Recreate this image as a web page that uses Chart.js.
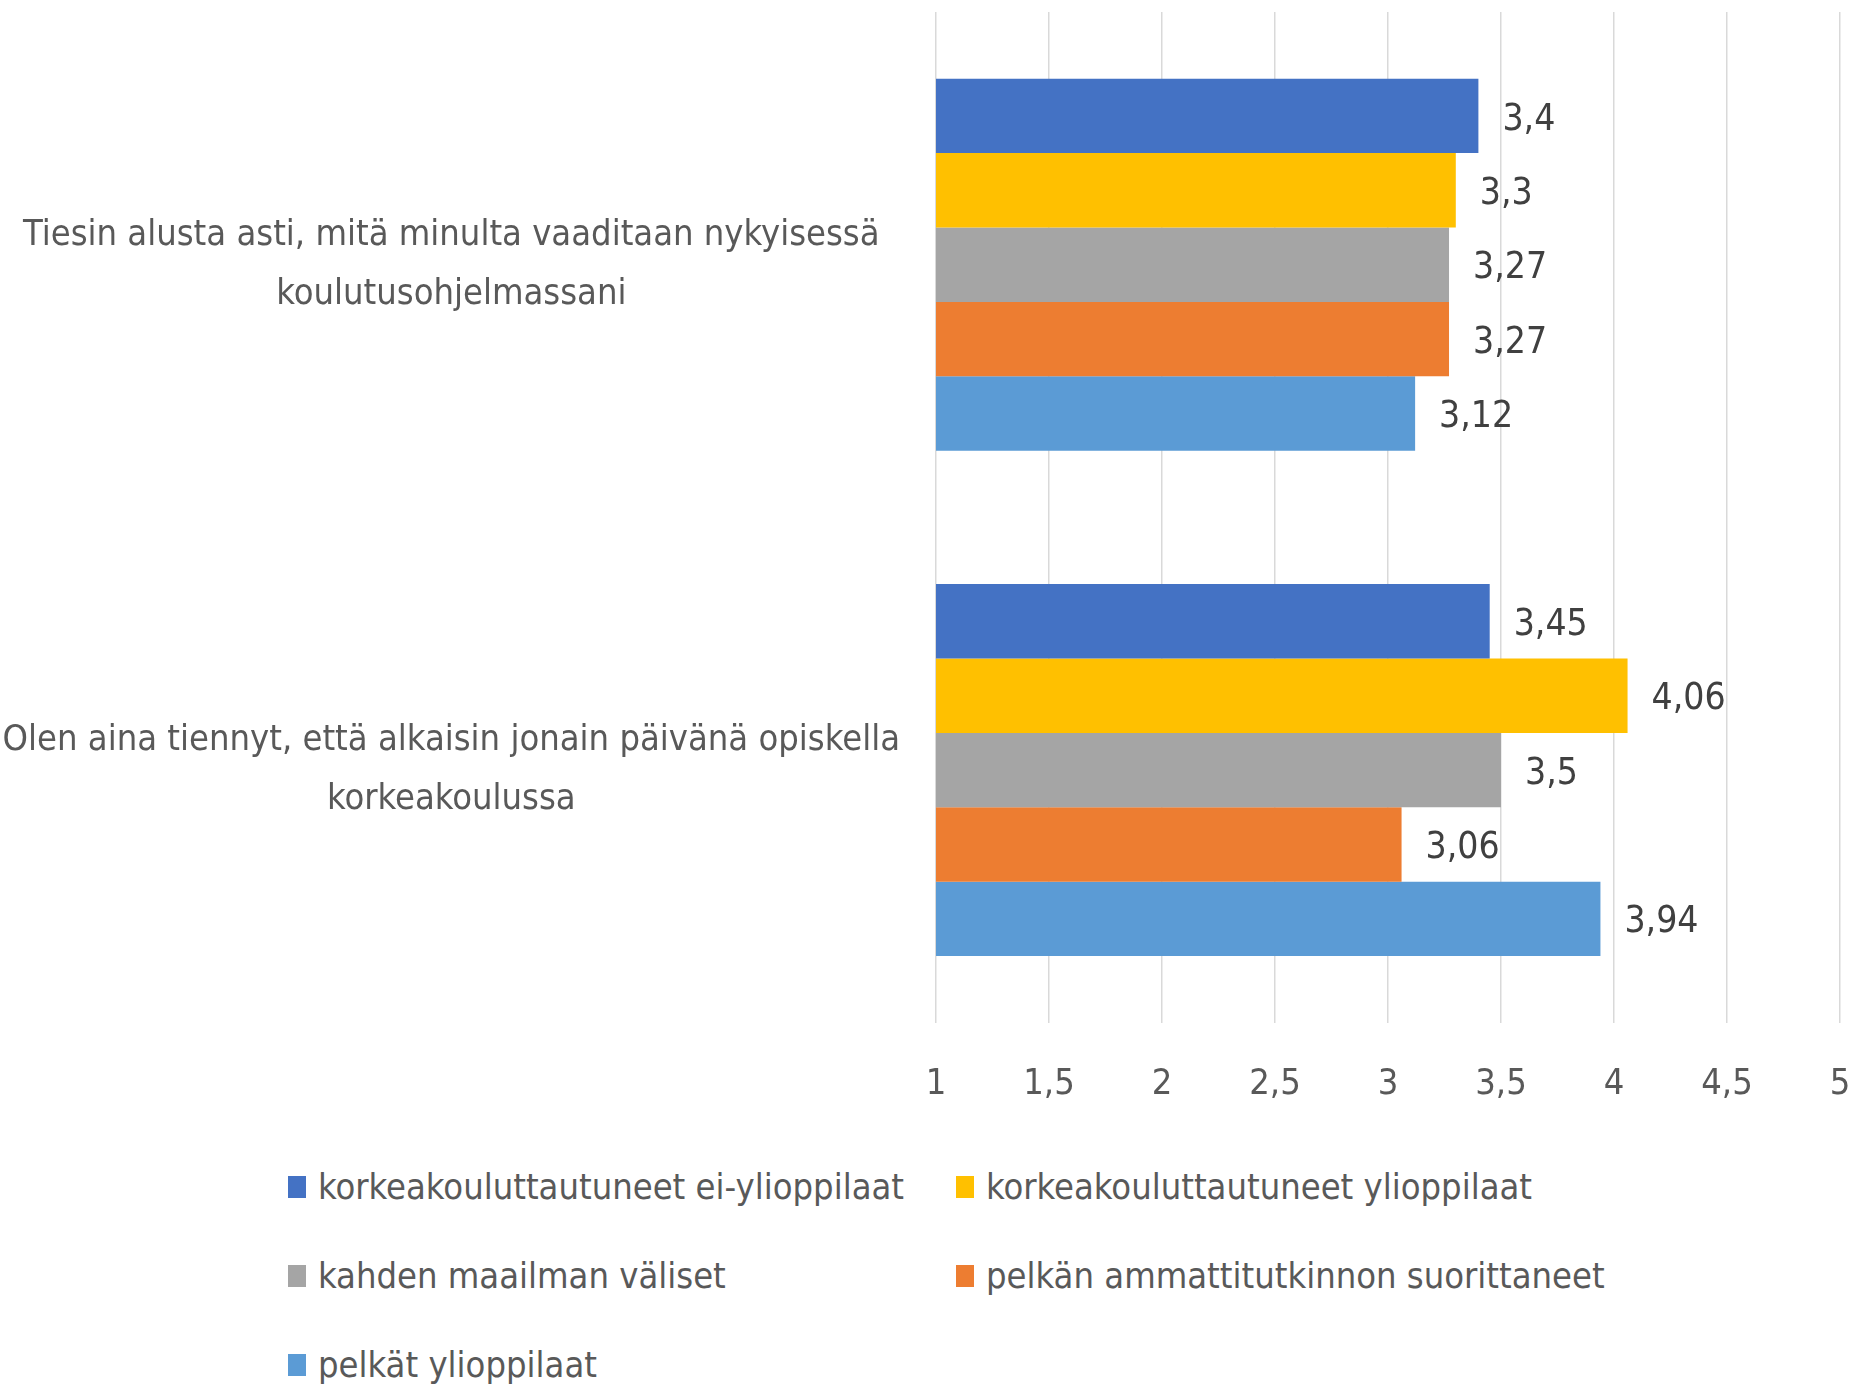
<!DOCTYPE html>
<html>
<head>
<meta charset="utf-8">
<script src="https://cdn.jsdelivr.net/npm/chart.js@4.4.1/dist/chart.umd.min.js"></script>
<style>
    body { margin: 0; background: #fff; }
    #wrap { position: relative; width: 1856px; height: 1146px; }
    #legend {
        display: grid;
        grid-template-columns: 668px 700px;
        grid-auto-rows: 89px;
        padding-left: 288px;
        margin-top: -4px;
        font-family: "DejaVu Sans Condensed", "DejaVu Sans", sans-serif;
        font-size: 36px;
        color: #595959;
    }
    #legend .item { display: flex; align-items: center; white-space: nowrap; }
    #legend .box { width: 18px; height: 22px; margin-right: 12px; flex: none; }
</style>
</head>
<body>
<div id="wrap"><canvas id="chart-survey"></canvas></div>
<div id="legend"></div>
<script>
// Data

var categories = [
    ['Tiesin alusta asti, mitä minulta vaaditaan nykyisessä', 'koulutusohjelmassani'],
    ['Olen aina tiennyt, että alkaisin jonain päivänä opiskella', 'korkeakoulussa']
];
var seriesNames = [
    'korkeakouluttautuneet ei-ylioppilaat',
    'korkeakouluttautuneet ylioppilaat',
    'kahden maailman väliset',
    'pelkän ammattitutkinnon suorittaneet',
    'pelkät ylioppilaat'
];
var seriesColors = ['#4472C4', '#FFC000', '#A5A5A5', '#ED7D31', '#5B9BD5'];
var eiYlioppilaat = [3.4, 3.45];
var ylioppilaat = [3.3, 4.06];
var kahdenMaailman = [3.27, 3.5];
var ammattitutkinto = [3.27, 3.06];
var pelkatYlioppilaat = [3.12, 3.94];
var xTicks = [1, 1.5, 2, 2.5, 3, 3.5, 4, 4.5, 5];

var SurveyChart = (function () {

    // Variables

    var canvas = document.getElementById('chart-survey');
    var fontFamily = '"DejaVu Sans Condensed", "DejaVu Sans", sans-serif';
    var seriesValues = [eiYlioppilaat, ylioppilaat, kahdenMaailman, ammattitutkinto, pelkatYlioppilaat];


    // Methods

    function fmt(v) {
        return String(v).replace('.', ',');
    }

    var valueLabels = {
        id: 'valueLabels',
        afterDatasetsDraw: function (chart) {
            var ctx = chart.ctx;
            ctx.save();
            ctx.font = '37px ' + fontFamily;
            ctx.fillStyle = '#404040';
            ctx.textAlign = 'left';
            ctx.textBaseline = 'middle';
            chart.data.datasets.forEach(function (ds, i) {
                chart.getDatasetMeta(i).data.forEach(function (bar, j) {
                    ctx.fillText(fmt(ds.data[j]), bar.x + 24, bar.y + 4);
                });
            });
            ctx.restore();
        }
    };

    function buildLegend(chart) {
        var box = document.getElementById('legend');
        box.innerHTML = '';
        chart.data.datasets.forEach(function (ds) {
            var item = document.createElement('div');
            item.className = 'item';
            var sw = document.createElement('span');
            sw.className = 'box';
            sw.style.background = ds.backgroundColor;
            var txt = document.createElement('span');
            txt.textContent = ds.label;
            item.appendChild(sw);
            item.appendChild(txt);
            box.appendChild(item);
        });
    }

    function init($this) {

        var chart = new Chart($this, {
            type: 'bar',
            data: {
                labels: categories,
                datasets: seriesNames.map(function (name, i) {
                    return {
                        label: name,
                        data: seriesValues[i],
                        backgroundColor: seriesColors[i],
                        borderWidth: 0,
                        categoryPercentage: 0.736,
                        barPercentage: 1
                    };
                })
            },
            options: {
                indexAxis: 'y',
                responsive: true,
                maintainAspectRatio: false,
                animation: false,
                layout: { padding: { top: 12, right: 16, bottom: 0, left: 0 } },
                plugins: {
                    legend: { display: false },
                    tooltip: { enabled: false }
                },
                scales: {
                    x: {
                        min: 1,
                        max: 5,
                        afterBuildTicks: function (scale) {
                            scale.ticks = xTicks.map(function (v) { return { value: v }; });
                        },
                        afterFit: function (scale) {
                            scale.paddingLeft = 0;
                            scale.paddingRight = 0;
                        },
                        grid: { color: '#d9d9d9', lineWidth: 1.5, drawTicks: false },
                        border: { display: false },
                        ticks: {
                            padding: 40,
                            color: '#595959',
                            font: { family: fontFamily, size: 36 },
                            callback: function (v) { return fmt(v); }
                        }
                    },
                    y: {
                        grid: { display: false, drawTicks: false },
                        border: { display: false },
                        afterFit: function (scale) {
                            scale.width = 936;
                            scale.paddingTop = 0;
                            scale.paddingBottom = 0;
                        },
                        ticks: {
                            crossAlign: 'center',
                            padding: 36,
                            color: '#595959',
                            font: { family: fontFamily, size: 36, lineHeight: 1.64 }
                        }
                    }
                }
            },
            plugins: [valueLabels]
        });

        buildLegend(chart);
        return chart;
    }


    // Events

    return init(canvas);

})();
</script>
</body>
</html>
